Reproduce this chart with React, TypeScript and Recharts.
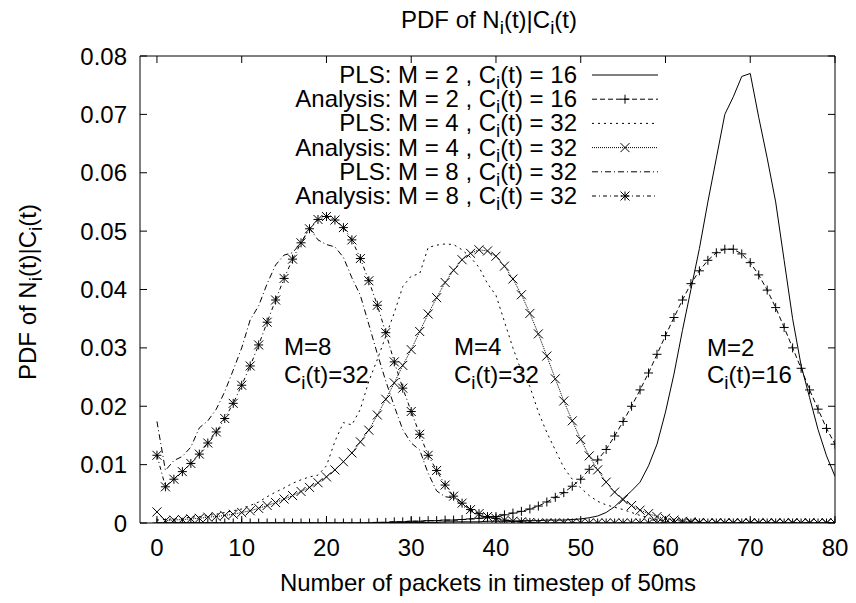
import React from "react";
import { LineChart, Line, XAxis, YAxis } from "recharts";

const FONT = "'Liberation Sans', Arial, Helvetica, sans-serif";
const FS = 24;
const SUB = 19;

// number of packets per 50ms timestep (x categories)
const packets = Array.from({ length: 81 }, (_, i) => i);
const xTicks = [0, 10, 20, 30, 40, 50, 60, 70, 80];
const yTicks = [0, 0.01, 0.02, 0.03, 0.04, 0.05, 0.06, 0.07, 0.08];

// PLS: M = 2, Ci(t) = 16
const pls2 = [
  0, 0, 0, 0, 0, 0, 0, 0, 0, 0,
  0, 0, 0, 0, 0, 0, 0, 0, 0, 0,
  0, 0, 0, 0, 0, 0, 0.0001, 0.0001, 0.0001, 0.0001,
  0.0001, 0.0001, 0.0001, 0.0001, 0.0002, 0.0002, 0.0002, 0.0002, 0.0002, 0.0003,
  0.0003, 0.0003, 0.0003, 0.0004, 0.0004, 0.0004, 0.0005, 0.0005, 0.0005, 0.0006,
  0.0007, 0.0009, 0.0012, 0.0018, 0.0028, 0.0042, 0.0055, 0.007, 0.0098, 0.0135,
  0.019, 0.0255, 0.033, 0.04, 0.047, 0.055, 0.0625, 0.07, 0.073, 0.0765,
  0.077, 0.0695, 0.0625, 0.055, 0.045, 0.035, 0.027, 0.0215, 0.016, 0.0115,
  0.008,
];

// Analysis: M = 2, Ci(t) = 16
const an2 = [
  0, 0, 0, 0, 0, 0, 0, 0, 0, 0,
  0, 0, 0, 0, 0, 0, 0, 0, 0, 0,
  0, 0, 0, 0, 0, 0, 0.0001, 0.0001, 0.0002, 0.0002,
  0.0003, 0.0003, 0.0004, 0.0004, 0.0005, 0.0005, 0.0006, 0.0007, 0.0008, 0.0009,
  0.0011, 0.0014, 0.0017, 0.002, 0.0024, 0.0029, 0.0036, 0.0044, 0.0052, 0.0063,
  0.0075, 0.0092, 0.0108, 0.0126, 0.0149, 0.0174, 0.02, 0.0228, 0.0257, 0.0289,
  0.0321, 0.0352, 0.0382, 0.041, 0.0432, 0.045, 0.0463, 0.0469, 0.0469, 0.0461,
  0.0446, 0.0425, 0.0399, 0.0369, 0.0335, 0.03, 0.0265, 0.0228, 0.0195, 0.0162,
  0.0135,
];

// PLS: M = 4, Ci(t) = 32
const pls4 = [
  0.0005, 0.0006, 0.0007, 0.0008, 0.001, 0.0011, 0.0013, 0.0015, 0.0018, 0.0021,
  0.0024, 0.003, 0.0036, 0.0045, 0.0053, 0.006, 0.0068, 0.0074, 0.0079, 0.0082,
  0.0098, 0.014, 0.0172, 0.0168, 0.0195, 0.0243, 0.028, 0.032, 0.036, 0.0405,
  0.0423, 0.0427, 0.0472, 0.0476, 0.0478, 0.0477, 0.0468, 0.0455, 0.0438, 0.041,
  0.039, 0.0345, 0.03, 0.026, 0.0234, 0.019, 0.0155, 0.0125, 0.0095, 0.0075,
  0.006, 0.0047, 0.0037, 0.0031, 0.0027, 0.0023, 0.0018, 0.0013, 0.0009, 0.0005,
  0.0003, 0.0002, 0.0001, 0, 0, 0, 0, 0, 0, 0,
  0, 0, 0, 0, 0, 0, 0, 0, 0, 0,
  0,
];

// Analysis: M = 4, Ci(t) = 32
const an4 = [
  0.0019, 0.0004, 0.0005, 0.0006, 0.0007, 0.0008, 0.001, 0.0011, 0.0013, 0.0015,
  0.0018, 0.0021, 0.0025, 0.003, 0.0035, 0.0041, 0.0047, 0.0054, 0.0061, 0.0069,
  0.0079, 0.0091, 0.0105, 0.012, 0.0139, 0.0159, 0.0185, 0.0212, 0.024, 0.027,
  0.0297, 0.0328, 0.0358, 0.0386, 0.0412, 0.0433, 0.0451, 0.0462, 0.0468, 0.0466,
  0.0457, 0.044, 0.0418, 0.0391, 0.0359, 0.0324, 0.0286, 0.0247, 0.0209, 0.0175,
  0.0143, 0.0115, 0.0091, 0.007, 0.0053, 0.004, 0.003, 0.0022, 0.0016, 0.0011,
  0.0008, 0.0005, 0.0003, 0.0002, 0.0001, 0, 0, 0, 0, 0,
  0, 0, 0, 0, 0, 0, 0, 0, 0, 0,
  0,
];

// PLS: M = 8, Ci(t) = 32
const pls8 = [
  0.0174, 0.009, 0.0107, 0.0114, 0.013, 0.0163, 0.0175, 0.0195, 0.0225, 0.0262,
  0.03, 0.0348, 0.0372, 0.041, 0.0442, 0.0459, 0.0463, 0.048, 0.0505, 0.0485,
  0.0477, 0.0473, 0.0455, 0.042, 0.039, 0.034, 0.029, 0.0243, 0.02, 0.016,
  0.0137, 0.0125, 0.0085, 0.0055, 0.0045, 0.0043, 0.003, 0.002, 0.0013, 0.001,
  0.0007, 0.0005, 0.0003, 0.0002, 0.0001, 0, 0, 0, 0, 0,
  0, 0, 0, 0, 0, 0, 0, 0, 0, 0,
  0, 0, 0, 0, 0, 0, 0, 0, 0, 0,
  0, 0, 0, 0, 0, 0, 0, 0, 0, 0,
  0,
];

// Analysis: M = 8, Ci(t) = 32
const an8 = [
  0.0116, 0.0062, 0.0075, 0.0088, 0.0102, 0.0118, 0.0137, 0.0156, 0.0179, 0.0205,
  0.0236, 0.0269, 0.0305, 0.0344, 0.0382, 0.0419, 0.0452, 0.048, 0.0504, 0.052,
  0.0525, 0.0519, 0.0506, 0.0485, 0.0453, 0.0415, 0.0373, 0.0326, 0.0276, 0.0231,
  0.0191, 0.0152, 0.0116, 0.009, 0.0065, 0.0046, 0.0034, 0.0023, 0.0016, 0.0011,
  0.0008, 0.0005, 0.0003, 0.0002, 0.0001, 0, 0, 0, 0, 0,
  0, 0, 0, 0, 0, 0, 0, 0, 0, 0,
  0, 0, 0, 0, 0, 0, 0, 0, 0, 0,
  0, 0, 0, 0, 0, 0, 0, 0, 0, 0,
  0,
];

const legendItems = [
  { pre: "PLS: M = 2 , C", post: "(t) = 16", dash: undefined, marker: "" },
  { pre: "Analysis: M = 2 , C", post: "(t) = 16", dash: "5 3", marker: "plus" },
  { pre: "PLS: M = 4 , C", post: "(t) = 32", dash: "2 4", marker: "" },
  { pre: "Analysis: M = 4 , C", post: "(t) = 32", dash: "1 1", marker: "cross" },
  { pre: "PLS: M = 8 , C", post: "(t) = 32", dash: "6 3 1 3", marker: "" },
  { pre: "Analysis: M = 8 , C", post: "(t) = 32", dash: "4 3 1 3", marker: "star" },
];

function markerPath(kind: string, cx: number, cy: number, s: number) {
  const plus = `M${cx - s},${cy}H${cx + s}M${cx},${cy - s}V${cy + s}`;
  const cross = `M${cx - s},${cy - s}L${cx + s},${cy + s}M${cx - s},${cy + s}L${cx + s},${cy - s}`;
  if (kind === "plus") return plus;
  if (kind === "cross") return cross;
  return plus + cross;
}

function makeDot(kind: string) {
  return (props: any) => {
    const { cx, cy, index } = props;
    if (cx == null || cy == null) return <g key={`${kind}-${index}`} />;
    return (
      <path
        key={`${kind}-${index}`}
        d={markerPath(kind, cx, cy, 4.5)}
        stroke="#000"
        strokeWidth={1}
        fill="none"
      />
    );
  };
}

function Sub({ pre, post, ...rest }: any) {
  return (
    <text fontFamily={FONT} fontSize={FS} fill="#000" {...rest}>
      {pre}
      <tspan dy={6} fontSize={SUB}>i</tspan>
      <tspan dy={-6}>{post}</tspan>
    </text>
  );
}

function PdfTitle(props: any) {
  return (
    <text textAnchor="middle" fontFamily={FONT} fontSize={FS} fill="#000" {...props}>
      PDF of N<tspan dy={6} fontSize={SUB}>i</tspan>
      <tspan dy={-6}>(t)|C</tspan>
      <tspan dy={6} fontSize={SUB}>i</tspan>
      <tspan dy={-6}>(t)</tspan>
    </text>
  );
}

export default function App() {
  const data = packets.map((x, i) => ({
    x,
    pls2: pls2[i],
    an2: an2[i],
    pls4: pls4[i],
    an4: an4[i],
    pls8: pls8[i],
    an8: an8[i],
  }));

  const tickStyle = { fill: "#000", fontSize: FS, fontFamily: FONT };
  const blank = () => "";

  return (
    <div style={{ position: "absolute", left: 0, top: 0, width: 856, height: 603, background: "#fff" }}>
      <LineChart
        width={856}
        height={603}
        data={data}
        margin={{ top: 56, right: 21, bottom: 0, left: 0 }}
      >
        <XAxis
          xAxisId="b"
          dataKey="x"
          type="number"
          domain={[-2, 80]}
          allowDataOverflow
          ticks={xTicks}
          interval={0}
          height={80}
          tickSize={0}
          tickMargin={16}
          stroke="#000"
          tick={tickStyle}
        />
        <XAxis
          xAxisId="bm"
          dataKey="x"
          type="number"
          domain={[-2, 80]}
          allowDataOverflow
          ticks={xTicks}
          interval={0}
          mirror
          tickSize={7}
          axisLine={false}
          stroke="#000"
          tickFormatter={blank}
        />
        <XAxis
          xAxisId="t"
          orientation="top"
          dataKey="x"
          type="number"
          domain={[-2, 80]}
          allowDataOverflow
          ticks={xTicks}
          interval={0}
          mirror
          tickSize={7}
          stroke="#000"
          tickFormatter={blank}
        />
        <YAxis
          yAxisId="l"
          type="number"
          domain={[0, 0.08]}
          allowDataOverflow
          ticks={yTicks}
          interval={0}
          width={140}
          tickSize={0}
          tickMargin={13}
          stroke="#000"
          tick={tickStyle}
          tickFormatter={(v: number) => (v === 0 ? "0" : v.toFixed(2))}
        />
        <YAxis
          yAxisId="lm"
          type="number"
          domain={[0, 0.08]}
          allowDataOverflow
          ticks={yTicks}
          interval={0}
          mirror
          tickSize={7}
          axisLine={false}
          stroke="#000"
          tickFormatter={blank}
        />
        <YAxis
          yAxisId="r"
          orientation="right"
          type="number"
          domain={[0, 0.08]}
          allowDataOverflow
          ticks={yTicks}
          interval={0}
          mirror
          tickSize={7}
          stroke="#000"
          tickFormatter={blank}
        />
        <Line xAxisId="b" yAxisId="l" type="linear" dataKey="pls2" stroke="#000" strokeWidth={1} dot={false} isAnimationActive={false} />
        <Line xAxisId="b" yAxisId="l" type="linear" dataKey="an2" stroke="#000" strokeWidth={1} strokeDasharray="5 3" dot={makeDot("plus")} isAnimationActive={false} />
        <Line xAxisId="b" yAxisId="l" type="linear" dataKey="pls4" stroke="#000" strokeWidth={1} strokeDasharray="2 4" dot={false} isAnimationActive={false} />
        <Line xAxisId="b" yAxisId="l" type="linear" dataKey="an4" stroke="#000" strokeWidth={1} strokeDasharray="1 1" dot={makeDot("cross")} isAnimationActive={false} />
        <Line xAxisId="b" yAxisId="l" type="linear" dataKey="pls8" stroke="#000" strokeWidth={1} strokeDasharray="6 3 1 3" dot={false} isAnimationActive={false} />
        <Line xAxisId="b" yAxisId="l" type="linear" dataKey="an8" stroke="#000" strokeWidth={1} strokeDasharray="4 3 1 3" dot={makeDot("star")} isAnimationActive={false} />
      </LineChart>

      <svg
        width={856}
        height={603}
        style={{ position: "absolute", left: 0, top: 0, pointerEvents: "none" }}
      >
        {/* title */}
        <PdfTitle x={489} y={28} />
        {/* y axis label */}
        <PdfTitle transform="translate(36,292) rotate(-90)" />
        {/* x axis label */}
        <text x={488} y={591} textAnchor="middle" fontFamily={FONT} fontSize={FS} fill="#000">
          Number of packets in timestep of 50ms
        </text>

        {/* legend */}
        {legendItems.map((it, i) => {
          const ly = 75 + i * 24.2;
          return (
            <g key={i}>
              <Sub pre={it.pre} post={it.post} x={577} y={ly + 8} textAnchor="end" />
              <line x1={592} x2={658} y1={ly} y2={ly} stroke="#000" strokeWidth={1} strokeDasharray={it.dash} />
              {it.marker && (
                <path d={markerPath(it.marker, 625, ly, 4.5)} stroke="#000" strokeWidth={1} fill="none" />
              )}
            </g>
          );
        })}

        {/* curve annotations */}
        <text x={284} y={355} fontFamily={FONT} fontSize={FS} fill="#000">M=8</text>
        <Sub pre="C" post="(t)=32" x={284} y={383} />
        <text x={454} y={355} fontFamily={FONT} fontSize={FS} fill="#000">M=4</text>
        <Sub pre="C" post="(t)=32" x={454} y={383} />
        <text x={707} y={356} fontFamily={FONT} fontSize={FS} fill="#000">M=2</text>
        <Sub pre="C" post="(t)=16" x={707} y={383} />
      </svg>
    </div>
  );
}
